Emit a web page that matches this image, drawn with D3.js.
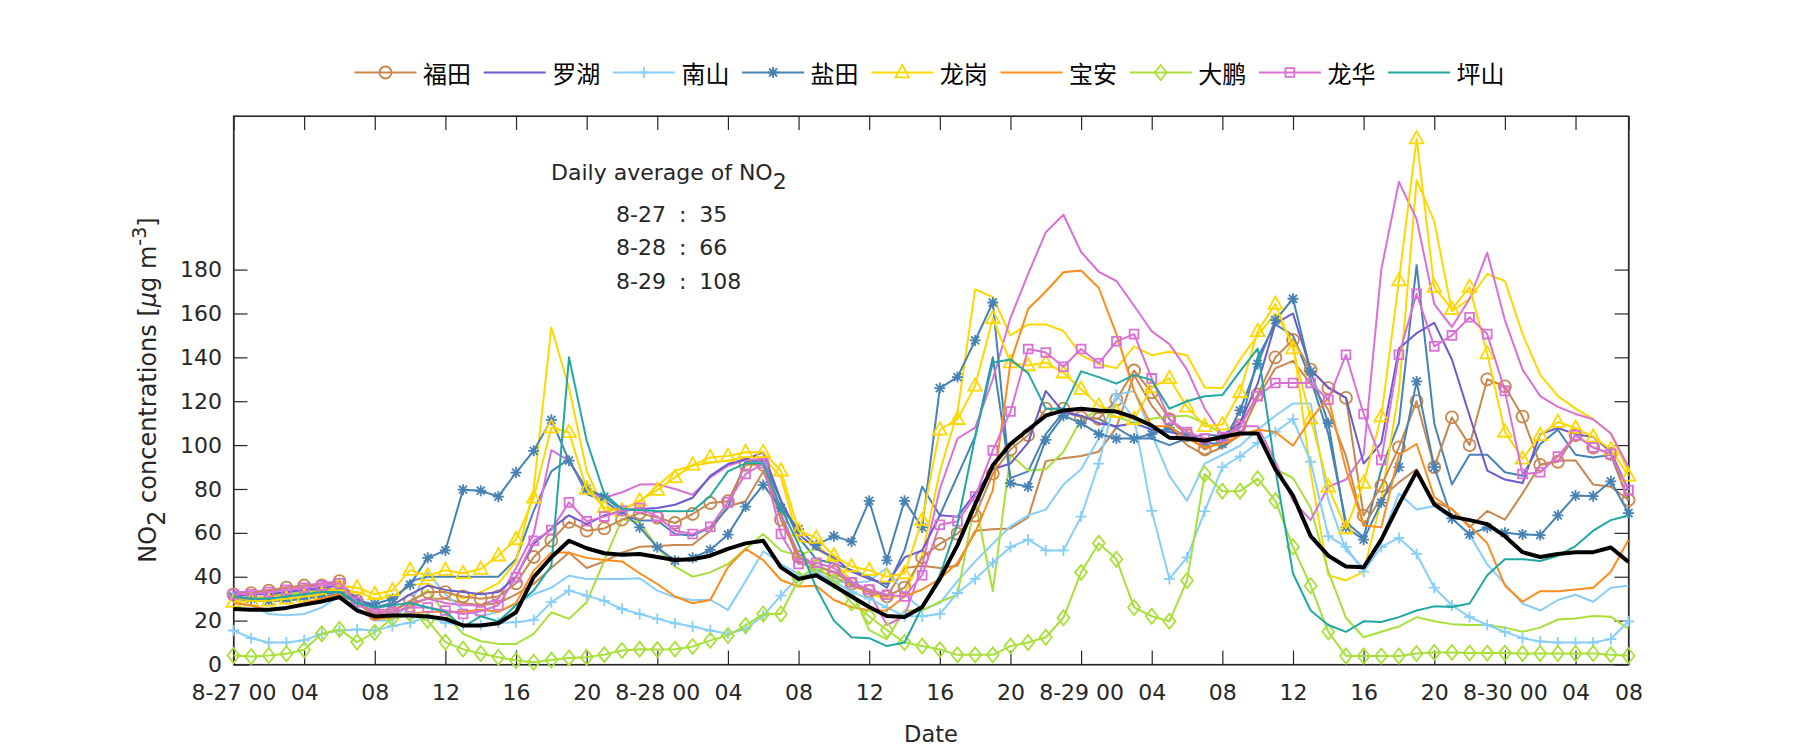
<!DOCTYPE html>
<html><head><meta charset="utf-8">
<script src="https://cdn.jsdelivr.net/npm/d3@7/dist/d3.min.js"></script>
<style>body{margin:0;background:#fff} svg text{font-family:"DejaVu Sans","Noto Sans CJK SC",sans-serif;fill:#262626}</style>
</head><body>
<svg id="chart" width="1800" height="750"></svg>
<script>
// ---------- data ----------
const tickHours  = [0,4,8,12,16,20,24,28,32,36,40,44,48,52,56,60,64,68,72,76,79];
const tickLabels = ["8-27 00","04","08","12","16","20","8-28 00","04","08","12","16","20","8-29 00","04","08","12","16","20","8-30 00","04","08"];
const yTicks = [0,20,40,60,80,100,120,140,160,180];

const futian = [32,32.5,33.7,35,36,36,38,29,23,24, 29,33,33,31,30,31,37,49,56.5,65, 61,62,66,69,67,64.5,68.6,73.6,74.4,91, 91,66,49,44.7,42.3,36.7,33.4,31,35,48.8, 55,59.6,67.9,87,98,104.5,116.6,116.6,112.6,112, 120.7,134,124,111.8,104.5,98,102,109,123,140, 148,134.4,126,121.5,67.9,81.4,99,120,90,112.6, 100,130,126.8,113,91,92.4,104.5,98.9,96,75];
const futianB = [30,30,31,32,33,34,35,28,22,23, 27,30,30,28,27,28,32,36.7,44,51, 44,47,51,53.7,54,54.5,54.6,61,72,74.4, 88,68.6,47,43,40,36,33,31,44,45, 44,45,61,61.7,62,67,92.7,94,95,97, 108,132,118,108,100,95.6,99,104.5,121.5,135, 138.4,128,116,95,63.3,76,83,89,74,71, 62.5,70,66,78,91,93,93,82,81,75];
const luohu = [31,32,32,33,34,35,36,30,26,27, 32,36,34,33,32,33,40,55,62,68, 64,68,70,70.9,71.3,72.8,76,86,91.4,93.6, 96.7,74.7,59.5,52.8,48.8,42.3,39,36.7,48.8,52, 68,67.4,78,89,91.6,101,124.7,115,113.4,110, 108.6,110,107,106,104.5,102,104.5,110,128,155.4, 160,134.4,126.3,121.5,91.6,101,144,151,155.7,139, 113.4,88.4,84.3,82.7,105,107.8,105,103.7,97,79.5];
const nanshan = [15.5,12,10,10,11,14,15.5,16,15.5,17.5, 19,22,19,18,18,19,19.3,20.3,28.4,33.7, 31.4,29,25.3,23,20.8,18.8,17.3,15.5,14,16.2, 22.3,31.4,40,42,38,33,30,26,22,22, 23,32.6,39,46.4,53.6,56.9,52,52,67.4,91.6, 123,112,70,39,48.8,69.8,90,94.8,101,106, 111.8,92.4,58.5,53.6,42.3,53.6,57.7,50.4,35,27, 21.6,18,14.9,12,10.5,10,10,10,11.6,19.7];
const nanshanB = [28,27,23,22.5,23,26,31,26,20,20, 28,42,32,25,22,24,27.6,32,35,40.5, 39,39,39,39.3,33.7,30.6,29.4,29.4,24.9,38, 51.6,45.8,41.3,40,38,37,38,44,32,25, 28,38,47,55,63,68,70.6,82,89,103, 123,124.7,105,86,74.6,91.6,95.6,99.7,107,113.4, 119,119,75,52,44,57,78,70.6,72.2,66.6, 59.3,45.6,36.7,27.8,24.6,29.4,31.8,28.6,35,35.9];
const yantian = [31,30,29,30,31,32,33,29,27.6,30, 36.4,48.6,52,79.7,79.2,76.5,87.5,97.4,111.5,92.9, 80,76.5,70,62.5,53.4,47.3,48.6,52.2,59.2,72, 81.8,71.4,61.7,54.4,58.5,56,74.6,47.5,74.6,62.5, 126,131,147.7,165,82.7,81,102.4,113.4,110,105, 103,103,105,108,104,101,100.5,115.8,137,157, 166.7,133.6,110,62.5,56.9,73.8,90,129,90,66.6, 59.3,62.5,60,59.3,59,68,77,76.7,83.5,69];
const yantianB = [30,29,29,29,30,31,32,28,26,28, 38,40,40,40,40,40,48,70,88,93.6, 77.7,74.7,68.6,65.6,65.6,59.5,58.8,62.5,71.4,92.6, 92.9,74.7,58,48,46,43,40,35,52,81, 68,86,104,140,85,88,105,115,113,112, 108,103,103,100,103,105,104,108,140,155, 150,130,105,65,58,89,110,182,110,82, 95.6,95.6,87.6,86,100.5,107,95.6,94.3,95.6,74.6];
const longgang = [28.5,29,29,30,31,32,36,35,32,33.7, 43,40.5,43,41.6,43.5,49.6,57,76,108,105.8, 80,71.6,70,74.7,79.5,85.3,91,94.4,95,96.7, 96.7,88.3,61,57.7,49.6,44.7,43,40,41.5,65.8, 107,111.8,127,157.8,137.6,136.3,137.6,133,125.5,118, 115,111.8,126.3,130.4,117.4,108.6,109.4,124,151.9,164.3, 144,112,81,62,82.7,113,175,239.7,172,162, 172,141.7,106,93.7,104.5,110.5,107.8,103.7,98,86];
const longgangB = [30,30,31,31,32,33,34,33,30,31, 36,37,33,30,33,37,47,80,153.6,126, 88.3,70,70.9,74,81.5,88.3,90.6,92,93,94.4, 94.4,85.3,56.4,55,47,38,32,30,32,50, 88,115,171,167.5,150,155,155,152,141,137, 135,145,141,142.5,141,126.3,126,139,150,160, 147,87.6,40.7,38.3,42.3,75,125,220.8,202,161, 166.7,178,174.8,150.6,132,122.3,116.6,111.8,105.3,87.6];
const baoan = [28,27,24.6,26,28,30,32,24.6,20.8,21, 23,24,24,24,25,24,28,42.8,51,51, 48.6,47.6,47,41.6,36.7,31,27.9,29.4,44.3,52.7, 47.6,38.5,35.5,35.9,29.4,26.2,24.6,24.6,31,34.2, 39,46.4,60,79.5,137.6,162,170,178.8,179.6,171.6, 150.6,124.7,108.6,108.6,103,99,100.5,104.5,107,106, 99.7,111.8,121.5,89,63.3,62.5,95.6,100.5,76.3,70.6, 63.3,55.3,35.9,28.6,33.4,33.4,34.2,35,42.3,56.9];
const dapeng = [4.1,3.6,4.1,4.9,6.7,14,16,10.2,14.7,21, 23,20,10.2,7,5,3.3,1.8,1,2,3, 3.3,4.5,6.4,7,6.8,7,8.2,11,13.2,17.8, 23,23,39,45,38,28,22,15.7,10,8.4, 6.8,4.4,4.4,4.4,8.4,10,12.4,21.3,42,55.3, 48,26,22,19.7,38.3,86.8,79,79,84.7,74.6, 53.6,35.9,14.9,3.9,3.9,3.9,3.9,5,5.5,5.5, 5.2,5.2,5.2,5,5,5,5,5,4.5,4];
const dapengB = [33,33,32,32,33,33,34,28,24,25, 28,34,23,14,10.6,9.4,9.4,14,23.8,20.8, 28.4,47.3,66.3,64.8,53.4,44.6,40,42,45.8,52.7, 59.5,51.9,49.6,52.8,48,34,15.7,11.6,24.6,24.6, 28.6,31.8,74.6,33.4,95.6,88.4,89,97,111.8,115.8, 113,110,112,113,113.4,110,105,106,105,89, 85,71.4,42.3,21.3,12.4,14.9,17.3,21.6,19.7,18.4, 18,18,16.8,14.9,16.8,20.5,21,22.1,21.8,16.2];
const longhua = [32,32,33,34,35,36,37,28.4,23.8,23.8, 26,26,24.6,23,24.3,27,39.8,56.4,61.3,73.9, 65.3,67.4,70.1,71.3,67.4,61,59.5,62.8,73.9,86.8, 91.7,59.5,45.8,46.4,44,37.5,34.2,31.8,31,40.7, 63.7,65.3,76.6,97.6,115.3,143.8,142.2,135.7,143.8,137.3, 147.3,150.6,130.4,111.8,106,103,103.7,108.6,122.3,128.3, 128.3,128.3,120.7,141.2,114.2,93.2,141.2,169,145,150, 158.3,150.6,124.7,86.8,87.6,94.8,104.5,98.9,96,79.5];
const longhuaB = [33,33,34,35,36,37,38,30,25,25, 28,30,28,27,27,30,44,59.5,97.7,92.9, 79.2,76,78.5,82,82.2,80,77.4,85.3,90.6,93.2, 93.6,68.6,50.4,45,42,38,33,18,22,45, 80,103,108,130,158,178,197,205,188,179, 174.8,163.5,151.9,146,134.4,116.6,104.5,108.6,108.6,92.4, 74.6,65.8,81,84.3,95.6,180,220,203,164.3,153.8, 166.7,187.7,157,134.4,122.3,117.4,114.2,111.8,105.3,90];
const pingshan = [31,30,30,31,32,33,33,28,26,27, 28,26,24,17,22,19.6,27,33.7,45,140, 102,77.7,70.9,70.4,70,69.8,70,76.8,88,91.7, 91.7,71.4,54.6,35,20,12.4,12,8.4,10,26.2, 40.7,64,103.7,137.6,139,132.8,116.6,116.6,133.6,131, 128,132,129.6,116.6,120,122.3,122.8,133.6,144,89, 41.5,24.6,18,14.9,19.7,19.4,21.6,24.6,26.5,26.2, 27.8,40.7,48,48,47.2,49.6,54,61,65.8,67.9];
const average = [25.3,24.9,25,25.8,27.3,28.7,30.7,24.6,21.9,22.3, 22.3,21.9,20.8,17.8,17.8,18.8,23.8,39.8,48.9,56.4, 53,50.7,50,50.4,49,47.6,48,49.6,52.7,55.2, 56.4,44.3,39,40.7,35.9,31,26.2,22.1,21.6,26.2, 39,54.4,73,90.8,100.5,107,113.4,115.8,116.6,115.8, 115.3,112.6,108.9,103.4,103,102,103.7,105.3,105.3,89, 77,58.5,49.6,44.7,44.3,56.9,73,87.9,73,67.4, 65.8,64,58.5,51.2,49,50.4,51.2,51.2,53.3,46.8];

const stationNames = ["福田","罗湖","南山","盐田","龙岗","宝安","大鹏","龙华","坪山"];
const stationColors = ["#C8874E","#6A5ACD","#87CEFA","#4682B4","#FFD700","#FF8C1A","#A8E03A","#DA70D6","#20A8A0"];
const stationMarkers = ["circle","none","plus","star","triangle","none","diamond","square","none"];
const mainSeries = [futian,luohu,nanshan,yantian,longgang,baoan,dapeng,longhua,pingshan];
const extraSeries = [futianB,nanshanB,yantianB,longgangB,dapengB,longhuaB];
const extraColorIdx = [0,2,3,4,6,7];
const noteLines = ["8-27 : 35","8-28 : 66","8-29 : 108"];

// ---------- chart ----------
const svg = d3.select("#chart");
const x = d3.scaleLinear().domain([0,79]).range([233.5,1628.5]);
const y = d3.scaleLinear().domain([0,250]).range([664.5,116]);
const axisColor = "#262626";

function styleAxis(g){
  g.selectAll("path.domain").attr("stroke",axisColor).attr("stroke-width",1.2);
  g.selectAll(".tick line").attr("stroke",axisColor).attr("stroke-width",1.2);
  g.selectAll(".tick text").attr("fill",axisColor).style("font-size","22px");
}
svg.append("g").attr("transform","translate(0,664.5)")
  .call(d3.axisBottom(x).tickValues(tickHours).tickFormat((d,i)=>tickLabels[i]).tickSizeInner(-14).tickSizeOuter(0).tickPadding(20))
  .call(styleAxis);
svg.append("g").attr("transform","translate(0,116)")
  .call(d3.axisTop(x).tickValues(tickHours).tickFormat("").tickSizeInner(-14).tickSizeOuter(0))
  .call(styleAxis);
svg.append("g").attr("transform","translate(233.5,0)")
  .call(d3.axisLeft(y).tickValues(yTicks).tickSizeInner(-14).tickSizeOuter(0).tickPadding(11.5))
  .call(styleAxis);
svg.append("g").attr("transform","translate(1628.5,0)")
  .call(d3.axisRight(y).tickValues(yTicks).tickFormat("").tickSizeInner(-14).tickSizeOuter(0))
  .call(styleAxis);
svg.append("rect").attr("x",x(0)).attr("y",y(250)).attr("width",x(79)-x(0)).attr("height",y(0)-y(250))
  .attr("fill","none").attr("stroke",axisColor).attr("stroke-width",1.2);

const line = d3.line().x((d,i)=>x(i)).y(d=>y(d));
const plot = svg.append("g");

function markerPath(t){
  switch(t){
    case "circle": return "M6,0A6,6 0 1,1 -6,0A6,6 0 1,1 6,0Z";
    case "plus": return "M-5.5,0H5.5M0,-5.5V5.5";
    case "star": return "M-5.5,0H5.5M0,-5.5V5.5M-4,-4L4,4M-4,4L4,-4";
    case "triangle": return "M0,-7.5L6.8,4.8L-6.8,4.8Z";
    case "diamond": return "M0,-7.5L6,0L0,7.5L-6,0Z";
    case "square": return "M-4.4,-4.4H4.4V4.4H-4.4Z";
  }
  return "";
}

extraSeries.forEach((s,k)=>{
  plot.append("path").datum(s).attr("d",line).attr("fill","none")
    .attr("stroke",stationColors[extraColorIdx[k]]).attr("stroke-width",2).attr("stroke-linejoin","round");
});
mainSeries.forEach((s,k)=>{
  plot.append("path").datum(s).attr("d",line).attr("fill","none")
    .attr("stroke",stationColors[k]).attr("stroke-width",2).attr("stroke-linejoin","round");
  if(stationMarkers[k]!=="none"){
    plot.append("g").selectAll("path").data(s).join("path")
      .attr("transform",(d,i)=>`translate(${x(i)},${y(d)})`)
      .attr("d",markerPath(stationMarkers[k]))
      .attr("fill","none").attr("stroke",stationColors[k]).attr("stroke-width",1.8);
  }
});
plot.append("path").datum(average).attr("d",line).attr("fill","none")
  .attr("stroke","#000").attr("stroke-width",4).attr("stroke-linejoin","round");

// legend
const leg = svg.append("g");
stationNames.forEach((n,k)=>{
  const x0 = 354.5 + 129.2*k, ly = 72.5;
  leg.append("line").attr("x1",x0).attr("x2",x0+62).attr("y1",ly).attr("y2",ly)
    .attr("stroke",stationColors[k]).attr("stroke-width",2);
  if(stationMarkers[k]!=="none"){
    leg.append("path").attr("transform",`translate(${x0+31},${ly})`).attr("d",markerPath(stationMarkers[k]))
      .attr("fill","none").attr("stroke",stationColors[k]).attr("stroke-width",1.8);
  }
  leg.append("text").attr("x",x0+68.5).attr("y",ly).attr("dominant-baseline","central")
    .style("font-size","24px").style("fill","#000").style("font-family","'Noto Sans CJK SC',sans-serif").text(n);
});

// annotation
const t1 = svg.append("text").attr("x",551).attr("y",180).style("font-size","22px");
t1.append("tspan").text("Daily average of NO");
t1.append("tspan").attr("dy",9).text("2");
noteLines.forEach((s,i)=>{
  svg.append("text").attr("x",616).attr("y",221.5+33.5*i).style("font-size","22px")
    .attr("word-spacing","6px").text(s);
});

// axis labels
svg.append("text").attr("x",931).attr("y",742).attr("text-anchor","middle").style("font-size","22.5px").text("Date");
const yl = svg.append("text").attr("transform","translate(156,390) rotate(-90)").attr("text-anchor","middle").style("font-size","24px");
yl.append("tspan").text("NO");
yl.append("tspan").attr("dy",9).text("2");
yl.append("tspan").attr("dy",-9).text(" concentrations [");
yl.append("tspan").style("font-style","italic").text("μ");
yl.append("tspan").text("g m");
yl.append("tspan").attr("dy",-10).style("font-size","19px").text("-3");
yl.append("tspan").attr("dy",10).text("]");
</script>
</body></html>
